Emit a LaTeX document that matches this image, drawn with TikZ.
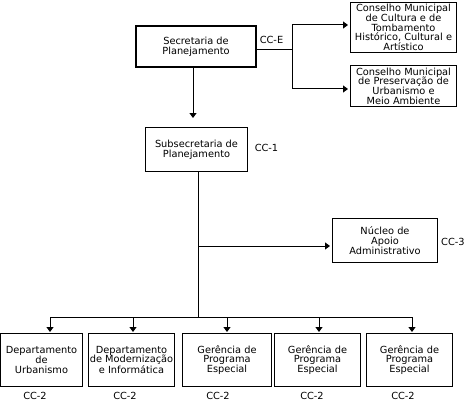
\documentclass[tikz,border=0pt]{standalone}
\usepackage{fontspec}
\setmainfont{DejaVu Sans}
\usetikzlibrary{arrows.meta}
\begin{document}
\begin{tikzpicture}[x=1pt,y=-1pt,
 box/.style={draw,line width=1pt,inner sep=0pt,align=center,font=\fontsize{9.8}{9.7}\selectfont},
 lbl/.style={inner sep=0pt,font=\fontsize{9.8}{9.7}\selectfont},
 conn/.style={line width=1pt},
 arr/.style={line width=1pt,-{Triangle[width=7pt,length=5pt]}}]
\useasboundingbox (0,0) rectangle (465,401);
% boxes
\node[box,line width=2pt,minimum width=120pt,minimum height=41pt] (sec) at (196,46.5) {Secretaria de\\Planejamento};
\node[box,minimum width=106pt,minimum height=50pt] (c1) at (403.5,27.5) {Conselho Municipal\\de Cultura e de\\Tombamento\\Histórico, Cultural e\\Artístico};
\node[box,minimum width=106pt,minimum height=41pt] (c2) at (403.5,86) {Conselho Municipal\\de Preservação de\\Urbanismo e\\Meio Ambiente};
\node[box,minimum width=102pt,minimum height=44pt] (sub) at (196.5,149.5) {Subsecretaria de\\Planejamento};
\node[box,minimum width=105pt,minimum height=44pt] (nuc) at (385,240.5) {Núcleo de\\Apoio\\Administrativo};
\node[box,minimum width=82pt,minimum height=53pt] (b1) at (41.5,360) {Departamento\\de\\Urbanismo};
\node[box,minimum width=86pt,minimum height=53pt] (b2) at (131.5,360) {Departamento\\de Modernização\\e Informática};
\node[box,minimum width=89pt,minimum height=53pt] (b3) at (227,360) {Gerência de\\Programa\\Especial};
\node[box,minimum width=86pt,minimum height=53pt] (b4) at (317.5,360) {Gerência de\\Programa\\Especial};
\node[box,minimum width=86pt,minimum height=53pt] (b5) at (409.5,360) {Gerência de\\Programa\\Especial};
% labels
\node[lbl] (le) at (271.5,40) {CC-E};
\node[lbl] (l1) at (266.5,148) {CC-1};
\node[lbl,anchor=west] (l3) at (441,242) {CC-3};
\node[lbl] (l21) at (35,395.5) {CC-2};
\node[lbl] (l22) at (125,395.5) {CC-2};
\node[lbl] (l23) at (218,395.5) {CC-2};
\node[lbl] (l24) at (312,395.5) {CC-2};
\node[lbl] (l25) at (403,395.5) {CC-2};
% connectors top
\coordinate (sj) at (292,50);
\coordinate (sj1) at (292,25);
\coordinate (sj2) at (292,89);
\draw[conn] (sec.east |- sj) -- (sj);
\draw[conn] (sj1) -- (sj2);
\draw[arr,shorten >=2pt] (sj1) -- (c1.west |- sj1);
\draw[arr,shorten >=2pt] (sj2) -- (c2.west |- sj2);
\coordinate (dx) at (193,0);
\draw[arr,shorten >=9pt] (sec.south -| dx) -- (sub.north -| dx);
% sub trunk
\coordinate (tx) at (198,0);
\coordinate (tb) at (198,246);
\coordinate (bus) at (198,317);
\draw[conn] (sub.south -| tx) -- (bus);
\draw[arr,shorten >=2pt] (tb) -- (nuc.west |- tb);
% bus
\coordinate (d1) at (50,317);
\coordinate (d2) at (133,317);
\coordinate (d3) at (227,317);
\coordinate (d4) at (319,317);
\coordinate (d5) at (412,317);
\draw[conn] (d1) -- (d5);
\draw[arr,shorten >=1pt] (d1) -- (b1.north -| d1);
\draw[arr,shorten >=1pt] (d2) -- (b2.north -| d2);
\draw[arr,shorten >=1pt] (d3) -- (b3.north -| d3);
\draw[arr,shorten >=1pt] (d4) -- (b4.north -| d4);
\draw[arr,shorten >=1pt] (d5) -- (b5.north -| d5);
\end{tikzpicture}
\end{document}
